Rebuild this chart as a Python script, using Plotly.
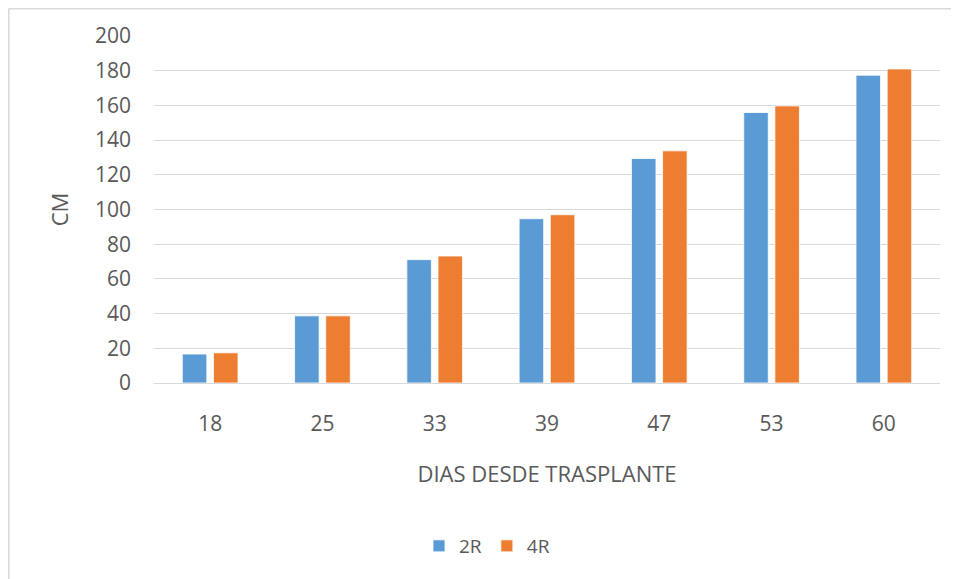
import plotly.graph_objects as go

dias = ["18", "25", "33", "39", "47", "53", "60"]
serie_2r = [16.7, 38.7, 71.1, 94.7, 129.4, 155.9, 177.4]
serie_4r = [17.4, 38.7, 73.2, 97.0, 133.8, 159.7, 181.0]
y_ticks = [0, 20, 40, 60, 80, 100, 120, 140, 160, 180, 200]

OFF = 8  # page body margin offset
W, H = 959 - OFF, 579 - OFF
L, T = 154 - OFF, 36 - OFF
R, B = W - (940 - OFF), H - (383 - OFF)
pw, ph = W - L - R, H - T - B


def fx(px):
    # figure pixel x -> paper fraction
    return (px - L) / pw


def fy(py):
    # figure pixel y (from top) -> paper fraction
    return (T + ph - py) / ph


font_family = "Open Sans, Noto Sans, sans-serif"
gray = "#595959"
border = "#d9d9d9"

fig = go.Figure()
fig.add_trace(go.Bar(name="2R", x=dias, y=serie_2r,
                     marker=dict(color="#5B9BD5", line=dict(color="white", width=0.8))))
fig.add_trace(go.Bar(name="4R", x=dias, y=serie_4r,
                     marker=dict(color="#ED7D31", line=dict(color="white", width=0.8))))

fig.update_layout(
    width=W, height=H,
    margin=dict(l=L, r=R, t=T, b=B),
    paper_bgcolor="white", plot_bgcolor="white",
    barmode="group", bargap=0.445, bargroupgap=0.212,
    font=dict(family=font_family, color=gray, size=19),
    showlegend=True,
    legend=dict(orientation="h", x=fx(487 - OFF), xanchor="center",
                y=fy(546 - OFF), yanchor="middle",
                font=dict(size=19, color=gray), traceorder="normal"),
    xaxis=dict(title=dict(text="DIAS DESDE TRASPLANTE", font=dict(size=22, color=gray), standoff=30),
               tickfont=dict(size=21, color=gray), showgrid=False, showline=False, ticks="",
               ticklabelstandoff=26),
    yaxis=dict(title=dict(text="CM", font=dict(size=22, color=gray), standoff=20),
               range=[0, 200], tickvals=y_ticks, tickfont=dict(size=21, color=gray),
               showgrid=True, gridcolor="#d9d9d9", gridwidth=1,
               zeroline=True, zerolinecolor="#d9d9d9", zerolinewidth=1,
               showline=False, ticks="", ticklabelstandoff=22),
    shapes=[
        dict(type="line", xref="paper", yref="paper",
             x0=fx(0.75), x1=fx(W), y0=fy(0.75), y1=fy(0.75),
             line=dict(color=border, width=1.5), layer="below"),
        dict(type="line", xref="paper", yref="paper",
             x0=fx(0.75), x1=fx(0.75), y0=fy(0.75), y1=fy(H),
             line=dict(color=border, width=1.5), layer="below"),
    ],
)

fig.write_html("out.html")
